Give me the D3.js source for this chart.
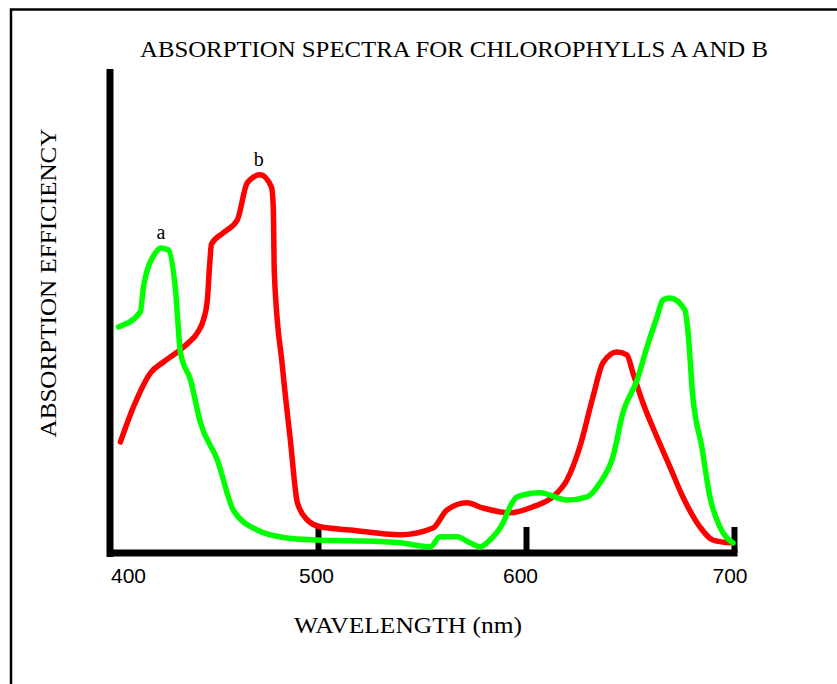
<!DOCTYPE html>
<html>
<head>
<meta charset="utf-8">
<script src="https://cdn.jsdelivr.net/npm/d3@7/dist/d3.min.js"></script>
<style>
  html, body { margin: 0; padding: 0; background: #fff; }
  svg { display: block; }
</style>
</head>
<body>
<svg id="chart" width="837" height="684"></svg>
<script>
// ---- data ----
const title = "ABSORPTION SPECTRA FOR CHLOROPHYLLS A AND B";
const xLabel = "WAVELENGTH (nm)";
const yLabel = "ABSORPTION EFFICIENCY";
const xTicks = [400, 500, 600, 700];

// chlorophyll a (green): wavelength (nm), relative absorption
const chlAWavelength = [404.1, 414.6, 416.1, 421.9, 424.3, 428.1, 431.5, 433.9, 438.7, 443.5,
  451.6, 459.3, 470.8, 485.2, 499.7, 515.5, 539.5, 554.0, 558.7, 566.9, 573.1, 577.9, 582.7,
  589.0, 592.3, 595.7, 606.8, 619.7, 629.4, 635.6, 641.8, 646.6, 653.4, 658.2, 663.0, 665.8,
  669.2, 676.4, 677.8, 680.2, 684.5, 688.4, 693.2, 699.5];
const chlAValue = [55.3, 59, 65.3, 73.8, 75, 74.5, 64.5, 48.8, 42, 31.3,
  22, 9.5, 4.5, 2.5, 2, 1.8, 1.3, 0.3, 2.8, 2.8, 1.3, 0.3, 2,
  6.3, 10.3, 12.8, 13.8, 12, 12.8, 16.3, 22.8, 33.8, 42, 50.3, 57.8, 62,
  62.5, 59.5, 54.5, 37.8, 25.3, 12.8, 5.3, 1.3];

// chlorophyll b (red)
const chlBWavelength = [405.0, 411.3, 419.5, 425.7, 432.4, 437.7, 442.0, 444.9, 446.8, 447.8,
  448.8, 454.5, 461.2, 466.0, 472.2, 477.6, 478.5, 479.0, 482.9, 486.7, 490.1, 494.9, 501.1,
  515.5, 539.5, 555.3, 562.0, 571.6, 579.3, 592.3, 603.3, 612.9, 619.7, 625.9, 632.2, 637.0,
  643.7, 648.5, 651.4, 656.2, 662.9, 669.2, 675.4, 683.6, 689.8, 698.0];
const chlBValue = [26.5, 35.3, 43.8, 46.5, 49, 51.3, 53.8, 57, 62, 70,
  76, 78.8, 82, 91.3, 93.3, 90.3, 85.3, 68.8, 45.3, 27, 11.3, 7, 5.3,
  4.5, 3.3, 5, 9.5, 11.3, 10, 8.8, 10.3, 12.8, 17, 25.3, 37.8, 46.3,
  49, 48.3, 43.8, 36.3, 27.8, 20.3, 12.8, 5.3, 2, 1.3];

const peakLabels = [
  { text: "a", wavelength: 424.5, value: 75 },
  { text: "b", wavelength: 471.5, value: 93.3 }
];

// ---- drawing ----
const svg = d3.select("#chart");
const serif = "'Liberation Serif', 'Times New Roman', serif";
const sans = "'Liberation Sans', Arial, sans-serif";

// outer frame (left and top edges only visible)
svg.append("path")
  .attr("d", "M11,684 L11,9.5 L837,9.5")
  .attr("fill", "none").attr("stroke", "#000").attr("stroke-width", 2.5);

const x = d3.scaleLinear().domain([400, 700]).range([110, 734]);
const y = d3.scaleLinear().domain([0, 100]).range([548, 148]);

// title
svg.append("text")
  .attr("x", 454).attr("y", 57)
  .attr("text-anchor", "middle")
  .attr("font-family", serif).attr("font-size", 23)
  .attr("textLength", 628).attr("lengthAdjust", "spacingAndGlyphs")
  .text(title);

// y axis line
svg.append("line")
  .attr("x1", x(400)).attr("x2", x(400))
  .attr("y1", 69).attr("y2", 557)
  .attr("stroke", "#000").attr("stroke-width", 7);

// x axis
const xAxis = d3.axisBottom(x).tickValues(xTicks).tickSize(0).tickPadding(0);
const gx = svg.append("g").attr("transform", "translate(0,553)").call(xAxis);
gx.select(".domain").remove();
gx.append("line")
  .attr("x1", 107).attr("x2", 737.5).attr("y1", 0).attr("y2", 0)
  .attr("stroke", "#000").attr("stroke-width", 7);
gx.selectAll(".tick").filter(d => d !== 400).append("line")
  .attr("x1", 0).attr("x2", 0).attr("y1", 0).attr("y2", -26)
  .attr("stroke", "#000").attr("stroke-width", 6);
const labelShift = { 400: 18, 500: -2, 600: -6, 700: -4.5 };
gx.selectAll(".tick text")
  .attr("fill", "#000")
  .attr("font-family", sans).attr("font-size", 21)
  .attr("dy", null)
  .attr("y", 30)
  .attr("x", d => labelShift[d]);

// axis titles
svg.append("text")
  .attr("x", 408).attr("y", 633)
  .attr("text-anchor", "middle")
  .attr("font-family", serif).attr("font-size", 23)
  .attr("textLength", 228).attr("lengthAdjust", "spacingAndGlyphs")
  .text(xLabel);

svg.append("text")
  .attr("transform", "translate(56,283) rotate(-90)")
  .attr("text-anchor", "middle")
  .attr("font-family", serif).attr("font-size", 24)
  .attr("textLength", 309).attr("lengthAdjust", "spacingAndGlyphs")
  .text(yLabel);

// curves
const line = d3.line().x(d => x(d[0])).y(d => y(d[1])).curve(d3.curveMonotoneX);
const chlB = chlBWavelength.map((w, i) => [w, chlBValue[i]]);
const chlA = chlAWavelength.map((w, i) => [w, chlAValue[i]]);

svg.append("path").datum(chlB)
  .attr("d", line).attr("fill", "none")
  .attr("stroke", "#ff0000").attr("stroke-width", 5.5)
  .attr("stroke-linejoin", "round").attr("stroke-linecap", "round");
svg.append("path").datum(chlA)
  .attr("d", line).attr("fill", "none")
  .attr("stroke", "#00ff00").attr("stroke-width", 5.5)
  .attr("stroke-linejoin", "round").attr("stroke-linecap", "round");

// peak labels
svg.selectAll(".peak").data(peakLabels).enter().append("text")
  .attr("class", "peak")
  .attr("x", d => x(d.wavelength))
  .attr("y", d => y(d.value) - 9)
  .attr("text-anchor", "middle")
  .attr("font-family", serif).attr("font-size", 20)
  .text(d => d.text);
</script>
</body>
</html>
